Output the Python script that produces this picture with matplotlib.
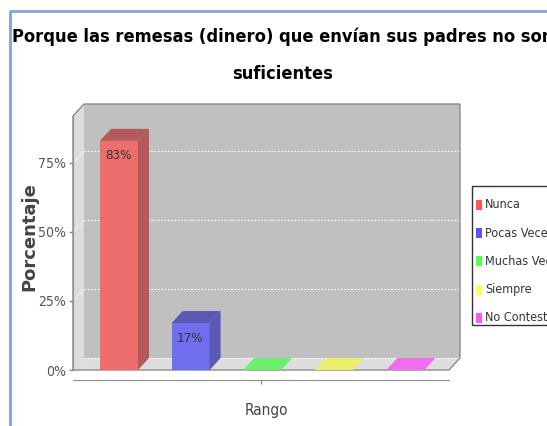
import matplotlib
matplotlib.use("Agg")
import numpy as np
import matplotlib.pyplot as plt
from matplotlib.patches import Polygon, Rectangle
from matplotlib.lines import Line2D
from matplotlib.font_manager import FontProperties

# data
categories = ["Nunca", "Pocas Veces", "Muchas Veces", "Siempre", "No Contestó"]
values = [83, 17, 0, 0, 0]
y_ticks = [0, 25, 50, 75]
y_tick_labels = ["0%", "25%", "50%", "75%"]
title_lines = ["Porque las remesas (dinero) que envían sus padres no son", "suficientes"]
x_label = "Rango"
y_label = "Porcentaje"

front_colors = ["#EE6E6E", "#6E6EEE", "#6EEE6E", "#EEEE6E", "#EE6EEE"]
dark_colors = ["#B45A5A", "#5A5AB4", "#5AB45A", "#B4B45A", "#B45AB4"]
legend_colors = ["#FF5555", "#5555FF", "#55FF55", "#FFFF55", "#FF55FF"]


def narrow(size, weight="normal"):
    return FontProperties(family="DejaVu Sans", stretch="condensed", size=size, weight=weight)


TXT = "#444444"

W, H = 547, 426
fig = plt.figure(figsize=(W / 100, H / 100), dpi=100)
fig.patch.set_facecolor("white")


def fx(px):
    return px / W


def fy(py):
    return 1 - py / H


# front plane of the plot, in pixels
L, R, B, T = 73, 449, 370, 116
ax = fig.add_axes([fx(L), fy(B), (R - L) / W, (B - T) / H])
ax.set_facecolor("none")

step = 71.6
xmin = -46 / step
xmax = xmin + (R - L) / step
ymax = 92
ax.set_xlim(xmin, xmax)
ax.set_ylim(0, ymax)

# 3d depth offset converted to data units
dx = 11 * (xmax - xmin) / (R - L)
dy = 12 * ymax / (B - T)

wall = "#C0C0C0"
side = "#DDDDDD"
edge = "#8C8C8C"

ax.add_patch(Rectangle((xmin + dx, dy), xmax - xmin, ymax, facecolor=wall,
                       edgecolor="none", clip_on=False, zorder=0))
ax.add_patch(Polygon([(xmin, 0), (xmin + dx, dy), (xmin + dx, ymax + dy), (xmin, ymax)],
                     closed=True, facecolor=side, edgecolor="none", clip_on=False, zorder=0))
ax.add_patch(Polygon([(xmin, 0), (xmax, 0), (xmax + dx, dy), (xmin + dx, dy)],
                     closed=True, facecolor=side, edgecolor="none", clip_on=False, zorder=0))

# dotted gridlines on the back wall and the side wall
for t in y_ticks:
    ax.plot([xmin + dx, xmax + dx], [t + dy, t + dy], color="white", lw=0.8,
            ls=(0, (1.5, 1.5)), clip_on=False, zorder=1)
    if t > 0:
        ax.plot([xmin, xmin + dx], [t, t + dy], color="white", lw=0.8,
                ls=(0, (1.5, 1.5)), clip_on=False, zorder=1)

ax.plot([xmin, xmin, xmin + dx, xmax + dx, xmax + dx, xmax, xmin],
        [0, ymax, ymax + dy, ymax + dy, dy, 0, 0],
        color=edge, lw=1, clip_on=False, zorder=1)

# bars
pos = np.arange(len(values))
bw = 38 / step
ax.bar(pos, values, bw, color=front_colors, linewidth=0, zorder=3)
for x, v, fc, dc in zip(pos, values, front_colors, dark_colors):
    x0, x1 = x - bw / 2, x + bw / 2
    top_c = dc if v > 0 else fc
    ax.add_patch(Polygon([(x0, v), (x1, v), (x1 + dx, v + dy), (x0 + dx, v + dy)],
                         closed=True, facecolor=top_c, edgecolor="none", zorder=3, clip_on=False))
    if v > 0:
        ax.add_patch(Polygon([(x1, 0), (x1 + dx, dy), (x1 + dx, v + dy), (x1, v)],
                             closed=True, facecolor=dc, edgecolor="none", zorder=3))
        ax.annotate(f"{v}%", (x, v), xytext=(-1, -15), textcoords="offset pixels",
                    ha="center", va="center", fontproperties=narrow(9.5),
                    color="#333333", zorder=4)

# axes
for s in ("top", "right"):
    ax.spines[s].set_visible(False)
ax.spines["bottom"].set_position(("outward", 7))
ax.spines["bottom"].set_bounds(xmin, xmax)
ax.spines["bottom"].set_color(edge)
ax.spines["left"].set_color(edge)
ax.set_xticks([(xmin + xmax) / 2])
ax.set_xticklabels([""])
ax.set_yticks(y_ticks)
ax.set_yticklabels(y_tick_labels, fontproperties=narrow(10), color="#555555")
ax.tick_params(axis="both", colors=edge, length=3, width=1, pad=2)
ax.tick_params(axis="y", labelcolor="#555555")

fig.text(fx(266), fy(410), x_label, ha="center", va="center",
         fontproperties=narrow(11), color=TXT)
fig.text(fx(29), fy(237), y_label, ha="center", va="center", rotation=90,
         fontsize=13, fontweight="bold", color=TXT)

# title, one line per text
for line, base in zip(title_lines, [42, 79]):
    fig.text(fx(283), fy(base), line, ha="center", va="baseline",
             fontproperties=narrow(13.1, "bold"), color="black")

# legend box
lx, ly_top, ly_bot = 472, 186, 325
fig.add_artist(Rectangle((fx(lx), fy(ly_bot)), (600 - lx) / W, (ly_bot - ly_top) / H,
                         transform=fig.transFigure, facecolor="white",
                         edgecolor="#333333", lw=1, zorder=5))
for i, (name, c) in enumerate(zip(categories, legend_colors)):
    yc = 205 + i * 28.2
    fig.add_artist(Rectangle((fx(476), fy(yc + 5)), 6 / W, 10 / H,
                             transform=fig.transFigure, facecolor=c,
                             edgecolor="none", zorder=6))
    fig.text(fx(485), fy(yc), name, ha="left", va="center",
             fontproperties=narrow(9), color="#333333", zorder=6)

# outer border of the panel
fig.add_artist(Line2D([fx(9.5), fx(9.5), 1], [0, fy(11), fy(11)],
                      transform=fig.transFigure, color="#7FA6D8", lw=2))

fig.savefig("out.png", dpi=100)
